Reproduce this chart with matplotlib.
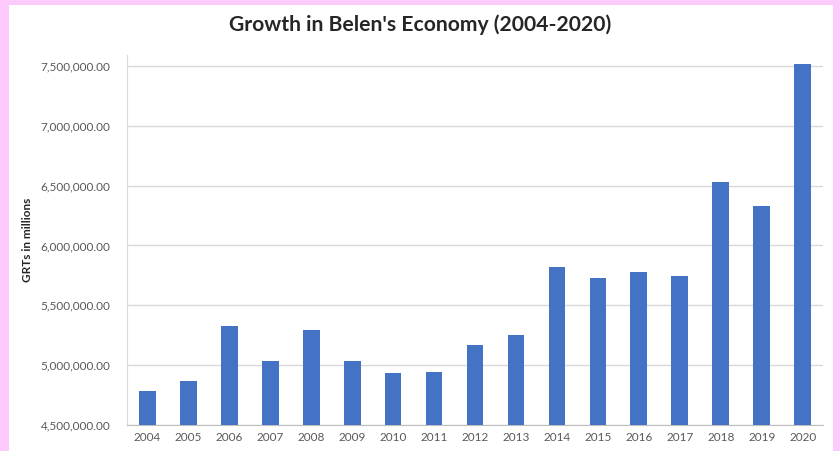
import matplotlib.pyplot as plt
from matplotlib.patches import Rectangle
from matplotlib.ticker import FuncFormatter

years = ['2004', '2005', '2006', '2007', '2008', '2009', '2010', '2011', '2012',
         '2013', '2014', '2015', '2016', '2017', '2018', '2019', '2020']
grts = [4786000, 4872000, 5328000, 5033000, 5297000, 5033000, 4933000, 4939000,
        5169000, 5256000, 5819000, 5731000, 5775000, 5744000, 6530000, 6328000, 7514000]
yticks = [4500000, 5000000, 5500000, 6000000, 6500000, 7000000, 7500000]

plt.rcParams['font.family'] = ['Lato', 'DejaVu Sans']

fig = plt.figure(figsize=(8.4, 4.51), dpi=100)
fig.patch.set_facecolor('#FCCBFB')
# white chart area inside the pink border
fig.patches.append(Rectangle((9 / 840, 0), (833 - 9) / 840, (451 - 5) / 451,
                             transform=fig.transFigure, facecolor='white',
                             edgecolor='none', zorder=-1))

ax = fig.add_axes([0.151, 0.0576, 0.829, 0.82])
ax.set_zorder(1)
ax.set_facecolor('none')
ax.bar(range(len(years)), grts, width=0.41, color='#4472C4', zorder=3)

ax.set_xlim(-0.5, len(years) - 0.5)
ax.set_ylim(4500000, 7590000)
ax.set_yticks(yticks)
ax.yaxis.set_major_formatter(FuncFormatter(lambda v, p: f'{v:,.2f}'))
ax.set_xticks(range(len(years)))
ax.set_xticklabels(years)
ax.tick_params(axis='both', length=0, labelsize=8.5, colors='#595959')
ax.tick_params(axis='y', pad=12)
ax.tick_params(axis='x', pad=5)
ax.grid(axis='y', color='#D9D9D9', linewidth=1, zorder=0)

for s in ['top', 'right']:
    ax.spines[s].set_visible(False)
ax.spines['left'].set_color('#D9D9D9')
ax.spines['bottom'].set_color('#BFBFBF')

ax.set_ylabel('GRTs in millions', fontsize=8.5, fontweight='bold', color='#262626', labelpad=5)
fig.text(0.5, 0.945, "Growth in Belen's Economy (2004-2020)", ha='center', va='center',
         fontsize=15.2, fontweight='bold', color='#262626')

fig.savefig('out.png', dpi=100, facecolor=fig.get_facecolor())
